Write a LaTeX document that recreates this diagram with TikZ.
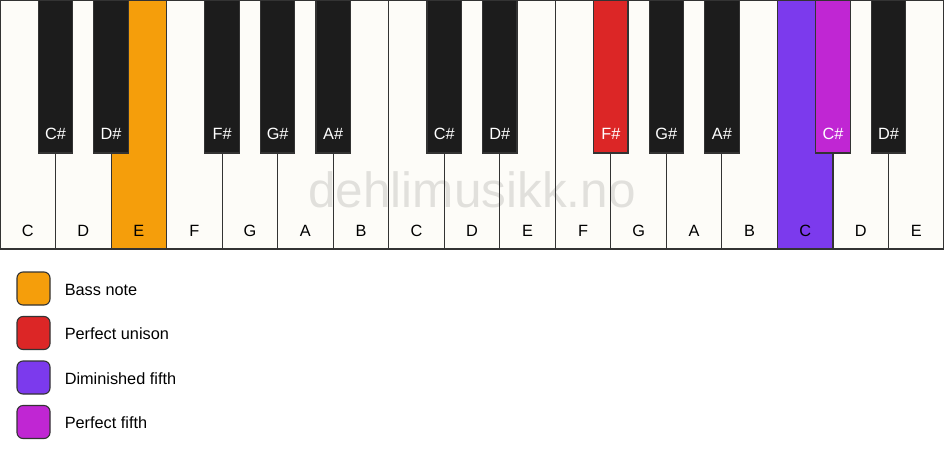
\documentclass[tikz,border=0pt]{standalone}
\usepackage{fontspec}
\setmainfont{Liberation Sans}
\usetikzlibrary{positioning}
\definecolor{keywhite}{HTML}{FDFCF8}
\definecolor{keyblack}{HTML}{1C1C1C}
\definecolor{keyline}{HTML}{333333}
\definecolor{bassnote}{HTML}{F59E0B}
\definecolor{unison}{HTML}{DC2626}
\definecolor{dimfifth}{HTML}{7C3AED}
\definecolor{perffifth}{HTML}{C026D3}
\tikzset{
  whitekey/.style={draw=keyline, line width=1.1pt},
  blackkey/.style={draw=keyline, line width=1.1pt},
  keyfont/.style={font=\fontsize{16.3}{19}\selectfont},
  wlabel/.style={keyfont, anchor=base, inner sep=0pt, text=black},
  blabel/.style={keyfont, anchor=base, inner sep=0pt, text=white},
  legendbox/.style={draw=keyline, line width=1.1pt, rounded corners=6pt,
    minimum width=33pt, minimum height=33pt, inner sep=0pt},
  legendtext/.style={keyfont, inner sep=0pt, anchor=west}
}
\begin{document}
\begin{tikzpicture}[x=1pt,y=-1pt]
  \useasboundingbox[fill=white] (0,0) rectangle (944,461);
  %white keys, first octave
  \fill[keywhite] (0,0) rectangle (944,249);
  \fill[bassnote] (111.06,0) rectangle (166.59,249);
  \fill[dimfifth] (777.41,0) rectangle (832.94,249);
  %watermark under the key lines
  \node[anchor=base, font=\fontsize{49.5}{52}\selectfont, text=black, text opacity=0.11]
    (mark) at (472,207) {dehlimusikk.no};
  \begin{scope}[every path/.style={whitekey}]
    \draw (0,0) rectangle (55.53,249);
    \draw (55.53,0) rectangle (111.06,249);
    \draw (111.06,0) rectangle (166.59,249);
    \draw (166.59,0) rectangle (222.12,249);
    \draw (222.12,0) rectangle (277.65,249);
    \draw (277.65,0) rectangle (333.18,249);
    \draw (333.18,0) rectangle (388.71,249);
    %second octave
    \draw (388.71,0) rectangle (444.24,249);
    \draw (444.24,0) rectangle (499.76,249);
    \draw (499.76,0) rectangle (555.29,249);
    \draw (555.29,0) rectangle (610.82,249);
    \draw (610.82,0) rectangle (666.35,249);
    \draw (666.35,0) rectangle (721.88,249);
    \draw (721.88,0) rectangle (777.41,249);
    %third octave
    \draw (777.41,0) rectangle (832.94,249);
    \draw (832.94,0) rectangle (888.47,249);
    \draw (888.47,0) rectangle (943.4,249);
  \end{scope}
  %insert labels of white keys
  \node[wlabel] (C1) at (27.76,236) {C};
  \node[wlabel] (D1) at (83.29,236) {D};
  \node[wlabel] (E1) at (138.82,236) {E};
  \node[wlabel] (F1) at (194.35,236) {F};
  \node[wlabel] (G1) at (249.88,236) {G};
  \node[wlabel] (A1) at (305.41,236) {A};
  \node[wlabel] (B1) at (360.94,236) {B};
  \node[wlabel] (C2) at (416.47,236) {C};
  \node[wlabel] (D2) at (472.00,236) {D};
  \node[wlabel] (E2) at (527.53,236) {E};
  \node[wlabel] (F2) at (583.06,236) {F};
  \node[wlabel] (G2) at (638.59,236) {G};
  \node[wlabel] (A2) at (694.12,236) {A};
  \node[wlabel] (B2) at (749.65,236) {B};
  \node[wlabel] (C3) at (805.18,236) {C};
  \node[wlabel] (D3) at (860.71,236) {D};
  \node[wlabel] (E3) at (916.24,236) {E};
  %black keys
  \begin{scope}[every path/.style={blackkey}]
    \draw[fill=keyblack] (38.33,0) rectangle (72.73,153);
    \draw[fill=keyblack] (93.86,0) rectangle (128.26,153);
    \draw[fill=keyblack] (204.92,0) rectangle (239.32,153);
    \draw[fill=keyblack] (260.45,0) rectangle (294.85,153);
    \draw[fill=keyblack] (315.98,0) rectangle (350.38,153);
    \draw[fill=keyblack] (427.04,0) rectangle (461.44,153);
    \draw[fill=keyblack] (482.56,0) rectangle (516.96,153);
    \draw[fill=unison] (593.62,0) rectangle (628.02,153);
    \draw[fill=keyblack] (649.15,0) rectangle (683.55,153);
    \draw[fill=keyblack] (704.68,0) rectangle (739.08,153);
    \draw[fill=perffifth] (815.74,0) rectangle (850.14,153);
    \draw[fill=keyblack] (871.27,0) rectangle (905.67,153);
  \end{scope}
  %insert labels of black keys
  \node[blabel] (Cs1) at (55.53,139) {C\#};
  \node[blabel] (Ds1) at (111.06,139) {D\#};
  \node[blabel] (Fs1) at (222.12,139) {F\#};
  \node[blabel] (Gs1) at (277.65,139) {G\#};
  \node[blabel] (As1) at (333.18,139) {A\#};
  \node[blabel] (Cs2) at (444.24,139) {C\#};
  \node[blabel] (Ds2) at (499.76,139) {D\#};
  \node[blabel] (Fs2) at (610.82,139) {F\#};
  \node[blabel] (Gs2) at (666.35,139) {G\#};
  \node[blabel] (As2) at (721.88,139) {A\#};
  \node[blabel] (Cs3) at (832.94,139) {C\#};
  \node[blabel] (Ds3) at (888.47,139) {D\#};
  %legend
  \node[legendbox, fill=bassnote] (bass) at (33.5,288.5) {};
  \node[legendbox, fill=unison] (unis) at (33.5,333) {};
  \node[legendbox, fill=dimfifth] (dim5) at (33.5,377.5) {};
  \node[legendbox, fill=perffifth] (perf5) at (33.5,422) {};
  \node[legendtext, right=14pt of bass, yshift=-1pt] (tbass) {Bass note};
  \node[legendtext, right=14pt of unis, yshift=-1pt] (tunis) {Perfect unison};
  \node[legendtext, right=14pt of dim5, yshift=-1pt] (tdim5) {Diminished fifth};
  \node[legendtext, right=14pt of perf5, yshift=-1pt] (tperf5) {Perfect fifth};
\end{tikzpicture}
\end{document}
